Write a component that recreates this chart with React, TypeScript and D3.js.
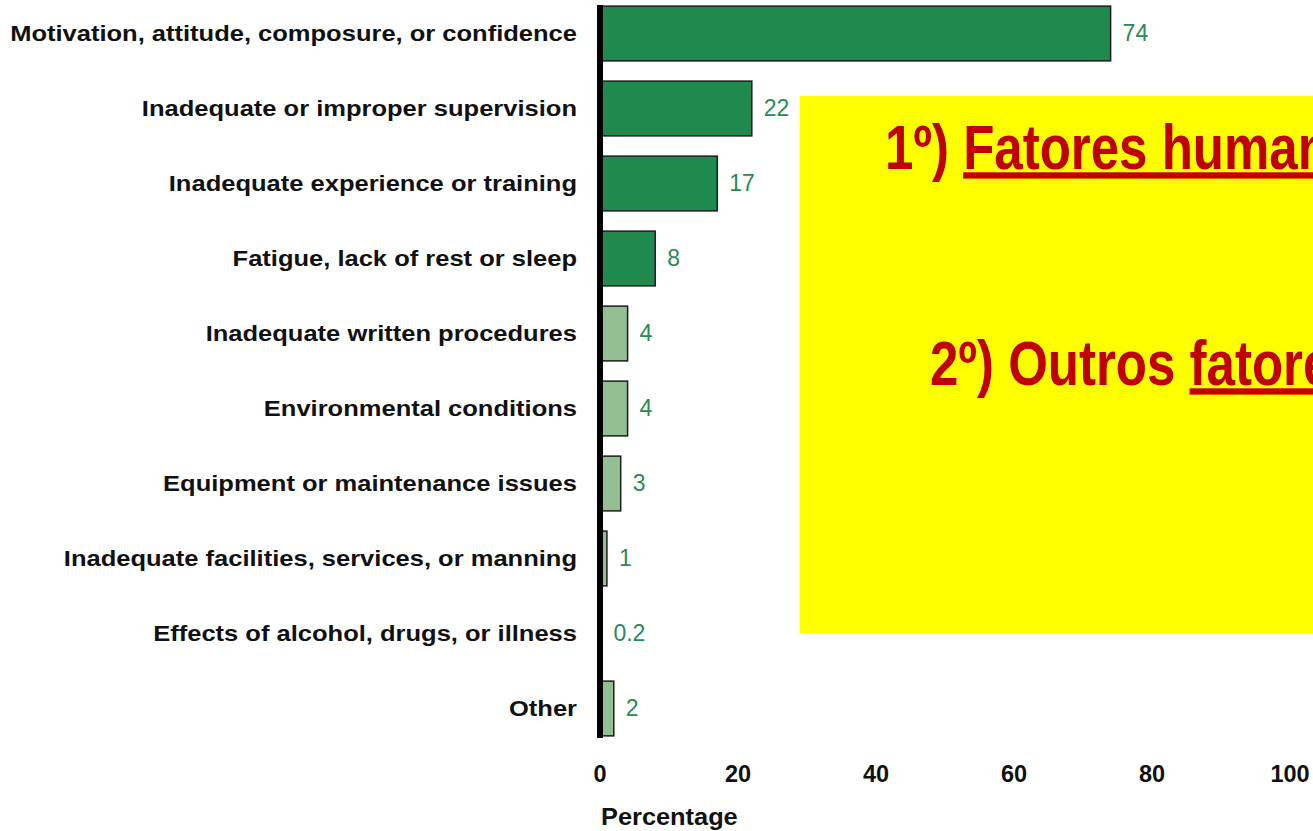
import * as d3 from 'd3'
import React, { useEffect, useRef } from 'react'

const categories = [
  'Motivation, attitude, composure, or confidence',
  'Inadequate or improper supervision',
  'Inadequate experience or training',
  'Fatigue, lack of rest or sleep',
  'Inadequate written procedures',
  'Environmental conditions',
  'Equipment or maintenance issues',
  'Inadequate facilities, services, or manning',
  'Effects of alcohol, drugs, or illness',
  'Other',
]
const values = [74, 22, 17, 8, 4, 4, 3, 1, 0.2, 2]
const valueLabels = ['74', '22', '17', '8', '4', '4', '3', '1', '0.2', '2']
const groups = ['human', 'human', 'human', 'human', 'other', 'other', 'other', 'other', 'other', 'other']
const xTicks = [0, 20, 40, 60, 80, 100]

const W = 1313
const H = 831
const FONT = '"Liberation Sans", Arial, Helvetica, sans-serif'

export default function App() {
  const svgRef = useRef<SVGSVGElement | null>(null)

  useEffect(() => {
    const svg = d3.select(svgRef.current)
    svg.selectAll('*').remove()

    const x = d3.scaleLinear().domain([0, 100]).range([600, 1290])
    const y = d3.scaleBand<string>().domain(categories).range([-4, 746]).paddingInner(0.27).paddingOuter(0.135)
    const color = d3.scaleOrdinal<string, string>().domain(['human', 'other']).range(['#208a4e', '#93bf93'])

    const rows = categories.map((c, i) => ({ name: c, value: values[i], label: valueLabels[i], group: groups[i] }))

    // category labels (source image is horizontally stretched)
    svg
      .append('g')
      .selectAll('g')
      .data(rows)
      .enter()
      .append('g')
      .attr('transform', (d) => `translate(577,${(y(d.name) ?? 0) + y.bandwidth() / 2}) scale(1.16,1)`)
      .append('text')
      .attr('text-anchor', 'end')
      .attr('dy', '0.34em')
      .style('font-family', FONT)
      .style('font-weight', 'bold')
      .style('font-size', '22px')
      .style('fill', '#111')
      .text((d) => d.name)

    // bars
    svg
      .append('g')
      .selectAll('rect')
      .data(rows)
      .enter()
      .append('rect')
      .attr('x', x(0))
      .attr('y', (d) => y(d.name) ?? 0)
      .attr('width', (d) => x(d.value) - x(0))
      .attr('height', y.bandwidth())
      .style('fill', (d) => color(d.group))
      .style('stroke', '#1c1c1c')
      .style('stroke-width', 1.5)

    // value labels
    svg
      .append('g')
      .selectAll('text')
      .data(rows)
      .enter()
      .append('text')
      .attr('x', (d) => x(d.value) + 12)
      .attr('y', (d) => (y(d.name) ?? 0) + y.bandwidth() / 2)
      .attr('dy', '0.34em')
      .style('font-family', FONT)
      .style('font-size', '23px')
      .style('fill', '#2a8a55')
      .text((d) => d.label)

    // thick axis line
    svg
      .append('line')
      .attr('x1', x(0))
      .attr('x2', x(0))
      .attr('y1', 5)
      .attr('y2', 738)
      .style('stroke', '#000')
      .style('stroke-width', 6)

    // x tick labels
    svg
      .append('g')
      .selectAll('text')
      .data(xTicks)
      .enter()
      .append('text')
      .attr('x', (d) => x(d))
      .attr('y', 782)
      .attr('text-anchor', 'middle')
      .style('font-family', FONT)
      .style('font-weight', 'bold')
      .style('font-size', '23.5px')
      .style('fill', '#111')
      .text((d) => d)

    svg
      .append('g')
      .attr('transform', 'translate(601,825) scale(1.08,1)')
      .append('text')
      .style('font-family', FONT)
      .style('font-weight', 'bold')
      .style('font-size', '23.5px')
      .style('fill', '#111')
      .text('Percentage')

    // yellow note box
    svg
      .append('rect')
      .attr('x', 800)
      .attr('y', 96)
      .attr('width', 600)
      .attr('height', 537)
      .style('fill', '#ffff00')

    const notes = [
      { pre: '1º) ', under: 'Fatores humanos', x: 885, y: 169 },
      { pre: '2º) Outros ', under: 'fatores', x: 930, y: 385 },
    ]

    const t = svg
      .append('g')
      .selectAll('g')
      .data(notes)
      .enter()
      .append('g')
      .attr('transform', (d) => `translate(${d.x},${d.y}) scale(0.81,1)`)
      .append('text')
      .style('font-family', FONT)
      .style('font-weight', 'bold')
      .style('font-size', '63px')
      .style('fill', '#c00000')

    t.append('tspan').text((d) => d.pre)
    t.append('tspan')
      .style('text-decoration', 'underline')
      .text((d) => d.under)
  }, [])

  return (
    <svg
      ref={svgRef}
      width={W}
      height={H}
      style={{ position: 'absolute', left: 0, top: 0, background: '#fff' }}
    ></svg>
  )
}
